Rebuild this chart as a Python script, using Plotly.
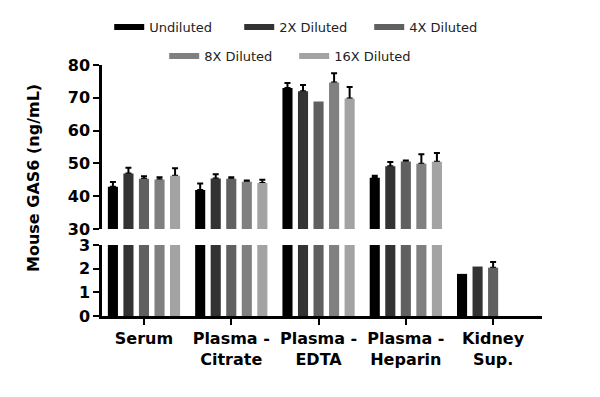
import plotly.graph_objects as go

categories = ["Serum", "Plasma -<br>Citrate", "Plasma -<br>EDTA", "Plasma -<br>Heparin", "Kidney<br>Sup."]
series_names = ["Undiluted", "2X Diluted", "4X Diluted", "8X Diluted", "16X Diluted"]

undiluted = [42.9, 41.9, 73.0, 45.6, 1.78]
x2_diluted = [46.9, 45.4, 72.0, 49.1, 2.09]
x4_diluted = [45.3, 45.3, 68.9, 50.6, 2.04]
x8_diluted = [45.1, 44.4, 74.7, 49.9, None]
x16_diluted = [46.2, 44.0, 69.8, 50.5, None]

undiluted_err = [1.4, 2.0, 1.5, 0.6, None]
x2_err = [1.8, 1.3, 1.9, 1.3, None]
x4_err = [0.8, 0.5, None, 0.3, 0.24]
x8_err = [0.7, 0.4, 2.8, 2.9, None]
x16_err = [2.3, 1.0, 3.5, 2.7, None]

values = [undiluted, x2_diluted, x4_diluted, x8_diluted, x16_diluted]
errors = [undiluted_err, x2_err, x4_err, x8_err, x16_err]
colors = ["#000000", "#333333", "#606060", "#808080", "#a3a3a3"]

FONT = "DejaVu Sans"
panels = [("x", "y"), ("x2", "y2")]

fig = go.Figure()

# error-bar carriers first (transparent bars), so the visible bars cover the lower cap
for xa, ya in panels:
    for i, name in enumerate(series_names):
        vals, errs = values[i], errors[i]
        carrier = [v if (e is not None and v is not None) else None for v, e in zip(vals, errs)]
        fig.add_trace(go.Bar(
            x=categories, y=carrier, offsetgroup=str(i), showlegend=False,
            marker=dict(color="rgba(0,0,0,0)", line=dict(width=0)),
            error_y=dict(type="data", symmetric=False,
                         array=[e if e is not None else 0 for e in errs],
                         arrayminus=[0] * len(errs),
                         color="black", thickness=2, width=3),
            hoverinfo="skip", xaxis=xa, yaxis=ya))

for xa, ya in panels:
    for i, name in enumerate(series_names):
        fig.add_trace(go.Bar(
            x=categories, y=values[i], offsetgroup=str(i), showlegend=False,
            marker=dict(color=colors[i], line=dict(width=0)),
            name=name, xaxis=xa, yaxis=ya))

# legend entries
for i, name in enumerate(series_names):
    fig.add_trace(go.Scatter(
        x=[None], y=[None], mode="lines", name=name,
        line=dict(color=colors[i], width=6),
        legend="legend" if i < 3 else "legend2",
        xaxis="x", yaxis="y"))

cat_range = [-0.481, 4.56]
axis_common = dict(showline=True, linecolor="black", linewidth=2.5,
                   ticks="outside", ticklen=6, tickwidth=2, tickcolor="black",
                   showgrid=False, zeroline=False)
tick_font = dict(family=FONT, size=16, color="black", weight="bold")

legend_common = dict(orientation="h", xref="container", xanchor="center",
                     yref="container", yanchor="middle", entrywidth=85,
                     font=dict(family=FONT, size=13, color="#222222"),
                     bgcolor="rgba(0,0,0,0)", borderwidth=0, itemclick=False)

fig.update_layout(
    width=600, height=397,
    margin=dict(l=94, r=66, t=57, b=89, autoexpand=False),
    plot_bgcolor="white", paper_bgcolor="white",
    barmode="group", bargap=0.11, bargroupgap=0.35,
    font=dict(family=FONT, color="black"),
    xaxis=dict(domain=[0, 1], anchor="y", range=cat_range, showticklabels=False,
               showline=False, ticks="", showgrid=False, zeroline=False),
    xaxis2=dict(domain=[0, 1], anchor="y2", range=cat_range, matches="x",
                tickfont=dict(family=FONT, size=16, color="black", weight="bold"),
                **axis_common),
    yaxis=dict(domain=[0.3466, 1], anchor="x", range=[30, 80],
               tickvals=[30, 40, 50, 60, 70, 80], tickfont=tick_font, **axis_common),
    yaxis2=dict(domain=[0, 0.2829], anchor="x2", range=[0, 3],
                tickvals=[0, 1, 2, 3], tickfont=tick_font, **axis_common),
    legend=dict(x=0.4937, y=1 - 19 / 397, **legend_common),
    legend2=dict(x=0.477, y=1 - 48 / 397, **legend_common),
    annotations=[dict(text="Mouse GAS6 (ng/mL)", textangle=-90, showarrow=False,
                      xref="paper", yref="paper", x=(33 - 102) / 440, y=(316 - 178) / 251,
                      xanchor="center", yanchor="middle",
                      font=dict(family=FONT, size=16, color="black", weight="bold"))],
)

fig.write_html("out.html")
